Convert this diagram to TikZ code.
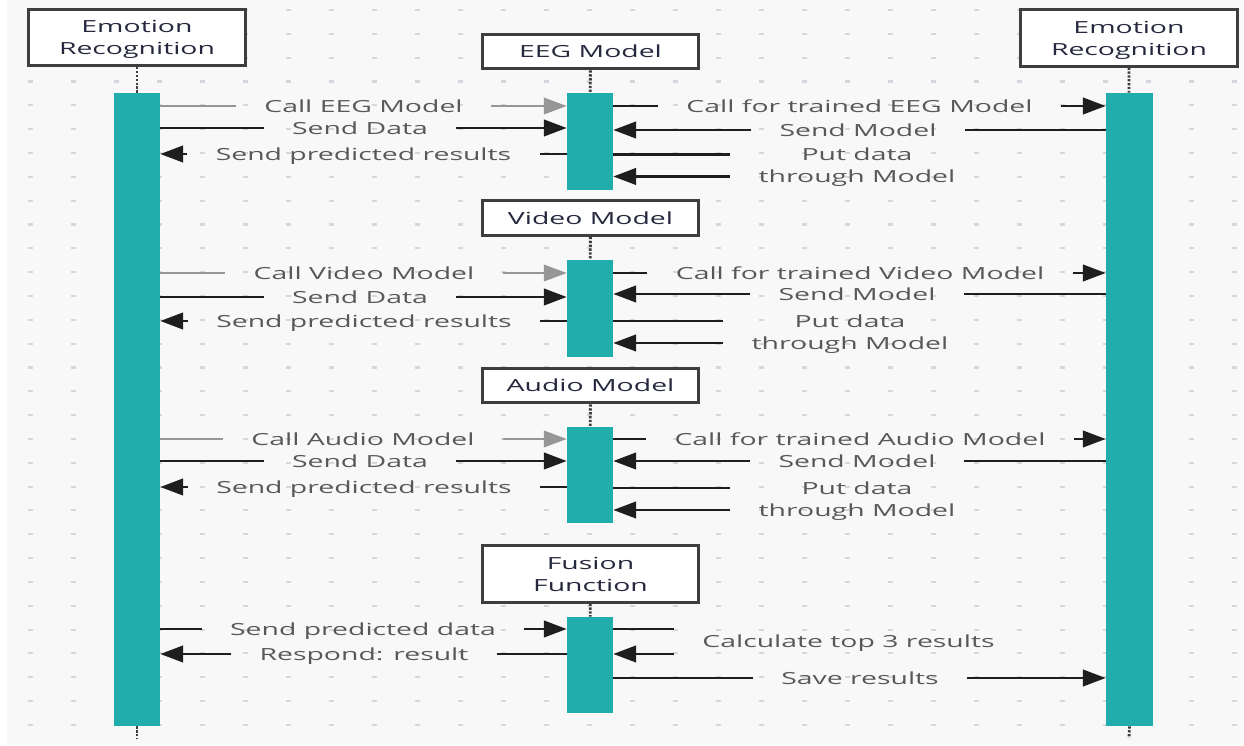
\documentclass[tikz,border=0pt]{standalone}
\usepackage{fontspec}
\setmainfont{Open Sans}[FakeStretch=1.7]
\usepackage{tikz}
\usetikzlibrary{arrows.meta,fit}
\definecolor{corfundo}{RGB}{248,248,248}
\definecolor{corgrade}{RGB}{214,214,222}
\definecolor{corbarra}{RGB}{34,173,173}
\definecolor{corborda}{RGB}{62,62,62}
\definecolor{cortitulo}{RGB}{38,40,62}
\definecolor{corrotulo}{RGB}{88,88,88}
\definecolor{corlinha}{RGB}{30,30,30}
\definecolor{corchamada}{RGB}{150,150,150}

\begin{document}
\begin{tikzpicture}[
  x=0.02cm, y=-0.02cm,
  font=\fontsize{9.5}{12.5}\selectfont,
  cabeca/.style={draw=corborda, line width=1.7pt, fill=white, inner sep=0pt,
                 minimum width=123pt, minimum height=19.8pt, text depth=0pt,
                 align=center, text=cortitulo},
  cabeca alta/.style={cabeca, minimum height=32pt},
  barra/.style={fill=corbarra, inner sep=0pt},
  vida/.style={draw=corborda, line width=1.6pt, dash pattern=on 1.3pt off 0.9pt},
  rotulo/.style={text=corrotulo, inner xsep=16pt, inner ysep=1pt, text depth=0pt,
                 align=center},
  msg/.style={draw=corlinha, line width=1.2pt},
  chamada/.style={draw=corchamada, line width=0.9pt},
  seta/.style={-{Triangle[length=13pt,width=9.5pt]}},
  grade/.style={draw=corgrade, line width=1.2pt}
]
  % fundo e grade
  \useasboundingbox (0,0) rectangle (1244,746);
  \fill[white] (0,0) rectangle (1244,746);
  \fill[corfundo] (7,0) rectangle (1244,745);
  \foreach \i in {0,...,28}
    \foreach \j in {0,...,30}
      \draw[grade] ({27.5+43*\i},{10+23.83*\j}) -- ++(5,0);

  % participantes
  \node[cabeca alta] (cesq) at (137,37.5) {Emotion\\Recognition};
  \node[cabeca alta] (cdir) at (1129,38) {Emotion\\Recognition};
  \node[cabeca] (ceeg) at (590.5,51.5) {EEG Model};
  \node[cabeca] (cvid) at (590.5,218) {Video Model};
  \node[cabeca] (caud) at (590.5,385.5) {Audio Model};
  \node[cabeca alta] (cfus) at (590.5,574) {Fusion\\Function};

  \node[barra, fit={(114,93) (160,726)}] (ebar) {};
  \node[barra, fit={(1106,93) (1153,726)}] (dbar) {};
  \node[barra, fit={(567,93) (613,190)}] (beeg) {};
  \node[barra, fit={(567,260) (613,357)}] (bvid) {};
  \node[barra, fit={(567,427) (613,523)}] (baud) {};
  \node[barra, fit={(567,617) (613,713)}] (bfus) {};

  \coordinate (fimesq) at (137,738);
  \coordinate (fimdir) at (1129,738);
  \draw[vida] (cesq) -- (ebar);
  \draw[vida] (cdir) -- (dbar);
  \draw[vida] (ceeg) -- (beeg);
  \draw[vida] (cvid) -- (bvid);
  \draw[vida] (caud) -- (baud);
  \draw[vida] (cfus) -- (bfus);
  \draw[vida] (ebar.south) -- (fimesq);
  \draw[vida] (dbar.south) -- (fimdir);

  % EEG
  \node[rotulo] (c1) at (363.5,106) {Call EEG Model};
  \node[rotulo] (d1) at (360,128) {Send Data};
  \node[rotulo] (r1) at (363.5,154) {Send predicted results};
  \node[rotulo] (t1) at (859.5,106) {Call for trained EEG Model};
  \node[rotulo] (m1) at (858,130) {Send Model};
  \node[rotulo] (p1) at (857,165.5) {Put data\\through Model};
  \draw[chamada] (ebar.east |- c1) -- (c1.west);
  \draw[chamada, seta] (c1.east) -- (beeg.west |- c1);
  \draw[msg] (ebar.east |- d1) -- (d1.west);
  \draw[msg, seta] (d1.east) -- (beeg.west |- d1);
  \draw[msg] (beeg.west |- r1) -- (r1.east);
  \draw[msg, seta] (r1.west) -- (ebar.east |- r1);
  \draw[msg] (beeg.east |- t1) -- (t1.west);
  \draw[msg, seta] (t1.east) -- (dbar.west |- t1);
  \draw[msg] (dbar.west |- m1) -- (m1.east);
  \draw[msg, seta] (m1.west) -- (beeg.east |- m1);
  \coordinate (p1a) at ([yshift=6.25pt]p1.west);
  \coordinate (p1b) at ([yshift=-6.25pt]p1.west);
  \draw[msg] (beeg.east |- p1a) -- (p1a);
  \draw[msg, seta] (p1b) -- (beeg.east |- p1b);

  % Video
  \node[rotulo] (c2) at (364,273) {Call Video Model};
  \node[rotulo] (d2) at (360,297) {Send Data};
  \node[rotulo] (r2) at (364,321) {Send predicted results};
  \node[rotulo] (t2) at (860,273) {Call for trained Video Model};
  \node[rotulo] (m2) at (857,294) {Send Model};
  \node[rotulo] (p2) at (850,332) {Put data\\through Model};
  \draw[chamada] (ebar.east |- c2) -- (c2.west);
  \draw[chamada, seta] (c2.east) -- (bvid.west |- c2);
  \draw[msg] (ebar.east |- d2) -- (d2.west);
  \draw[msg, seta] (d2.east) -- (bvid.west |- d2);
  \draw[msg] (bvid.west |- r2) -- (r2.east);
  \draw[msg, seta] (r2.west) -- (ebar.east |- r2);
  \draw[msg] (bvid.east |- t2) -- (t2.west);
  \draw[msg, seta] (t2.east) -- (dbar.west |- t2);
  \draw[msg] (dbar.west |- m2) -- (m2.east);
  \draw[msg, seta] (m2.west) -- (bvid.east |- m2);
  \coordinate (p2a) at ([yshift=6.25pt]p2.west);
  \coordinate (p2b) at ([yshift=-6.25pt]p2.west);
  \draw[msg] (bvid.east |- p2a) -- (p2a);
  \draw[msg, seta] (p2b) -- (bvid.east |- p2b);

  % Audio
  \node[rotulo] (c3) at (363,439) {Call Audio Model};
  \node[rotulo] (d3) at (360,461) {Send Data};
  \node[rotulo] (r3) at (364,487) {Send predicted results};
  \node[rotulo] (t3) at (860,439) {Call for trained Audio Model};
  \node[rotulo] (m3) at (857,461) {Send Model};
  \node[rotulo] (p3) at (857,499) {Put data\\through Model};
  \draw[chamada] (ebar.east |- c3) -- (c3.west);
  \draw[chamada, seta] (c3.east) -- (baud.west |- c3);
  \draw[msg] (ebar.east |- d3) -- (d3.west);
  \draw[msg, seta] (d3.east) -- (baud.west |- d3);
  \draw[msg] (baud.west |- r3) -- (r3.east);
  \draw[msg, seta] (r3.west) -- (ebar.east |- r3);
  \draw[msg] (baud.east |- t3) -- (t3.west);
  \draw[msg, seta] (t3.east) -- (dbar.west |- t3);
  \draw[msg] (dbar.west |- m3) -- (m3.east);
  \draw[msg, seta] (m3.west) -- (baud.east |- m3);
  \coordinate (p3a) at ([yshift=6.25pt]p3.west);
  \coordinate (p3b) at ([yshift=-6.25pt]p3.west);
  \draw[msg] (baud.east |- p3a) -- (p3a);
  \draw[msg, seta] (p3b) -- (baud.east |- p3b);

  % Fusion
  \node[rotulo] (f1) at (363,629) {Send predicted data};
  \node[rotulo] (f2) at (364,654) {Respond: result};
  \node[rotulo] (f3) at (848.5,641.5) {Calculate top 3 results};
  \node[rotulo] (f4) at (860,678) {Save results};
  \draw[msg] (ebar.east |- f1) -- (f1.west);
  \draw[msg, seta] (f1.east) -- (bfus.west |- f1);
  \draw[msg] (bfus.west |- f2) -- (f2.east);
  \draw[msg, seta] (f2.west) -- (ebar.east |- f2);
  \coordinate (f3a) at ([yshift=7.1pt]f3.west);
  \coordinate (f3b) at ([yshift=-7.1pt]f3.west);
  \draw[msg] (bfus.east |- f3a) -- (f3a);
  \draw[msg, seta] (f3b) -- (bfus.east |- f3b);
  \draw[msg] (bfus.east |- f4) -- (f4.west);
  \draw[msg, seta] (f4.east) -- (dbar.west |- f4);
\end{tikzpicture}
\end{document}
